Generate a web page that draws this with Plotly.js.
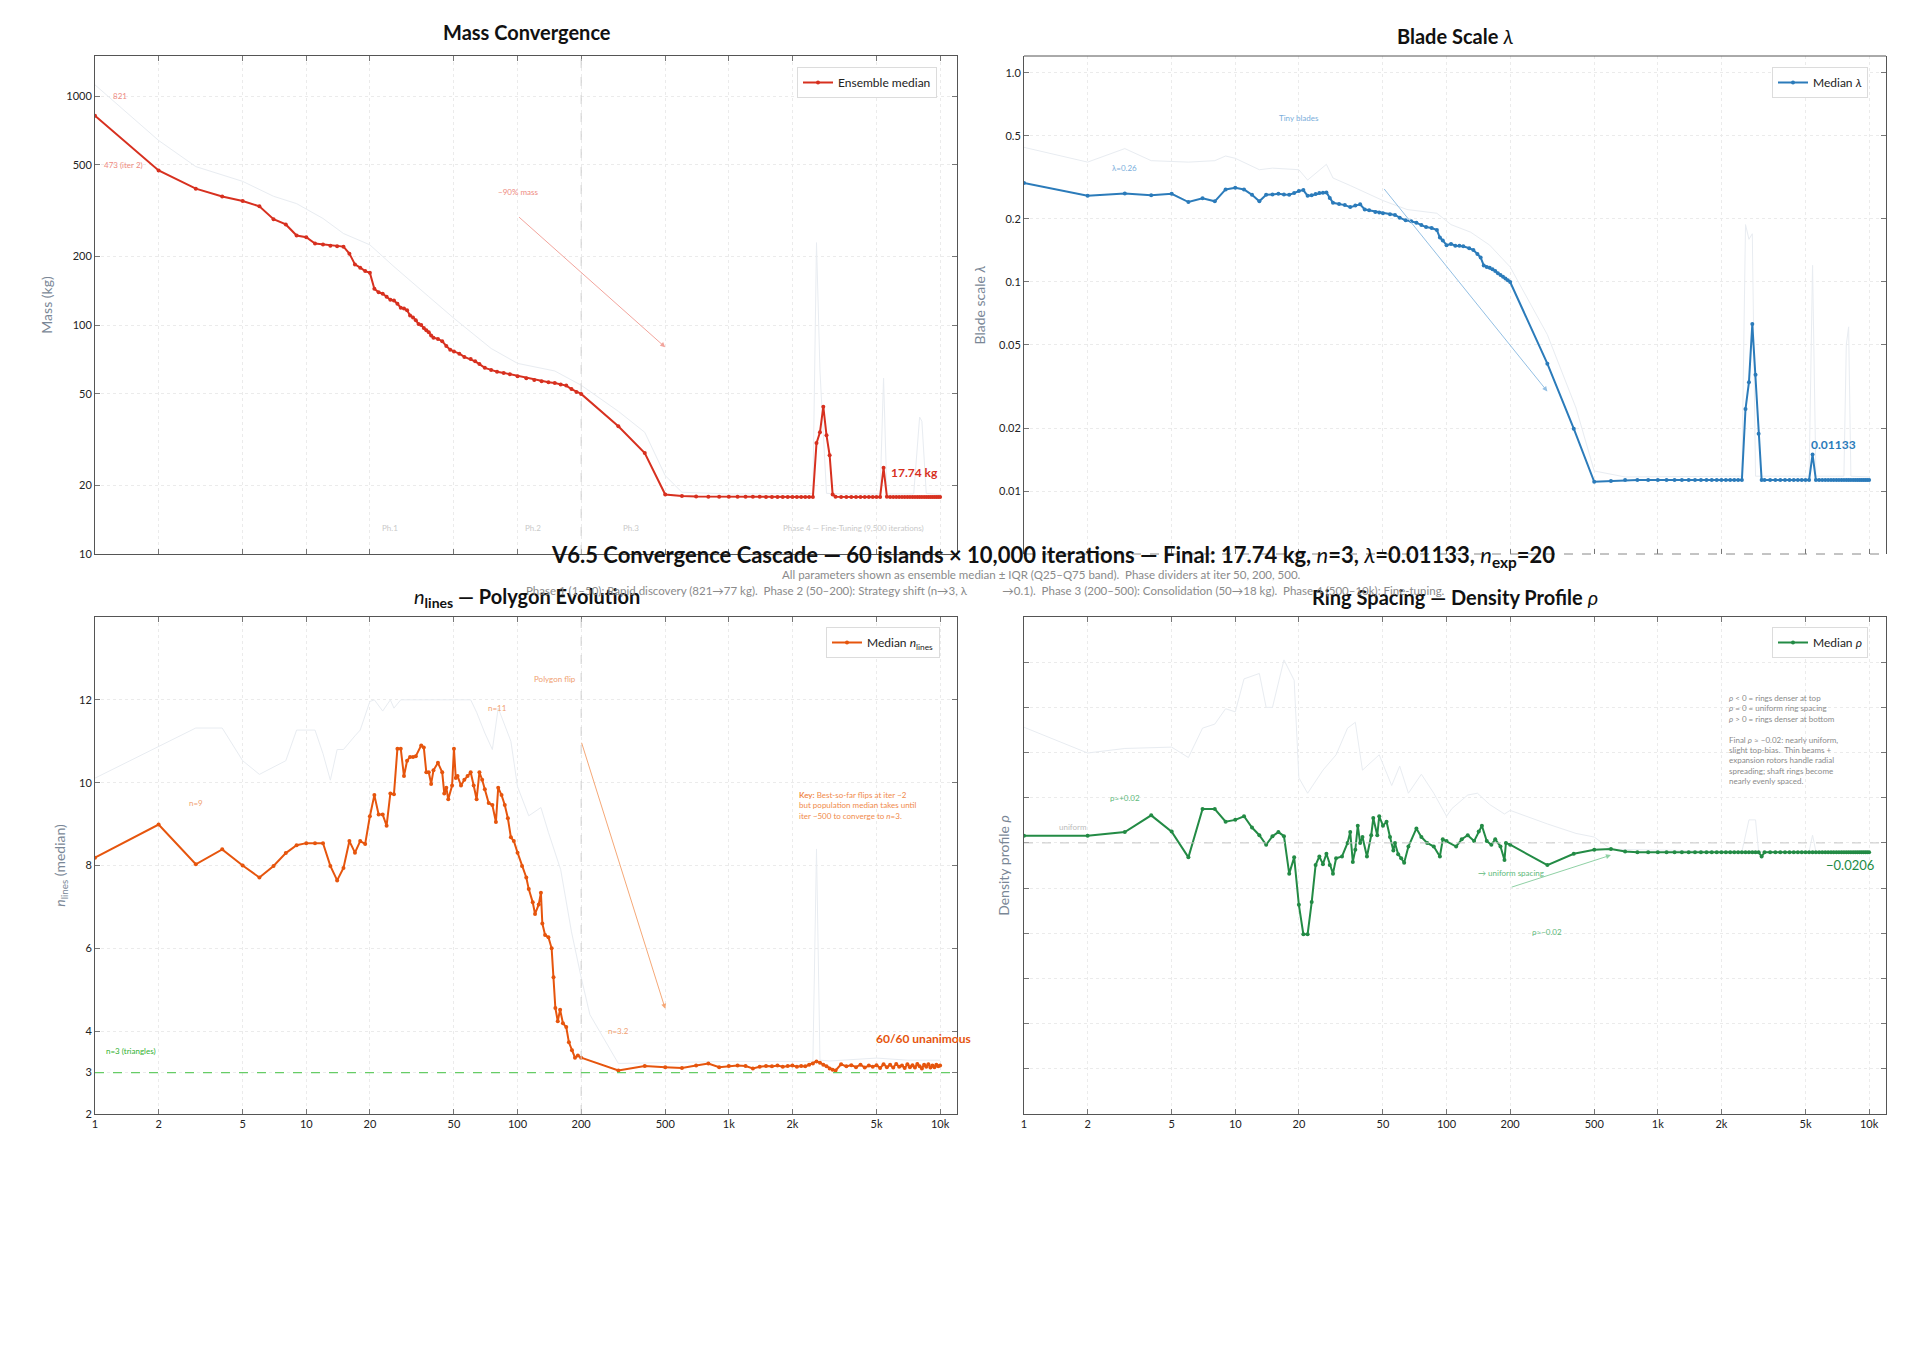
<!DOCTYPE html>
<html>
<head>
<meta charset="utf-8">
<script src="https://cdn.plot.ly/plotly-3.0.1.min.js"></script>
<style>
  body { margin: 0; background: #fff; }
  #chart { width: 1920px; height: 1360px; }
</style>
</head>
<body>
<div id="chart"></div>
<script>
// ---- data ----
var xTickVals = [1, 2, 5, 10, 20, 50, 100, 200, 500, 1000, 2000, 5000, 10000];
var xTickText = ['1', '2', '5', '10', '20', '50', '100', '200', '500', '1k', '2k', '5k', '10k'];

// iterations logged after iter 200
var tailIters = [300, 400, 500, 600, 700, 800, 900, 1000, 1100, 1200,
  1300, 1400, 1500, 1600, 1700, 1800, 1900, 2000, 2100, 2200,
  2300, 2400, 2500, 2600, 2700, 2800, 2900, 3000, 3100, 3200,
  3400, 3600, 3800, 4000, 4200, 4400, 4600, 4800, 5000, 5200,
  5400, 5600, 5800, 6000, 6200, 6400, 6600, 6800, 7000, 7200,
  7400, 7600, 7800, 8000, 8200, 8400, 8600, 8800, 9000, 9200,
  9400, 9600, 9800, 10000];

// mass median (kg)
var massIters = [1, 2, 3, 4, 5, 6, 7, 8, 9, 10, 11, 12, 13, 14, 15, 16, 17, 18, 19, 20,
  21, 22, 23, 24, 25, 26, 27, 28, 29, 30, 31, 32, 33, 34, 35, 36, 37, 38, 39, 40,
  42, 44, 46, 48, 50, 53, 56, 60, 63, 66, 70, 75, 80, 86, 92, 100, 110, 120, 130, 140,
  150, 160, 170, 180, 190, 200];
var massEarly = [821, 473, 394, 364, 348, 330, 290, 275, 246, 242, 227, 225, 222, 221, 220, 205, 184, 178, 172, 169,
  144, 139, 137, 133, 129, 128, 124, 119, 118, 116, 110, 108, 105, 101, 100, 97, 95, 93, 90, 88,
  87, 85, 81, 78, 76.7, 75, 72.6, 71, 69.4, 67.5, 65, 63.7, 62.5, 61.8, 61, 59.7, 58.5, 57.5, 56.8, 56.2,
  55.8, 55, 54.4, 52.5, 51, 50];
var massTail = [36.1, 27.6, 18.2, 17.9, 17.82, 17.80, 17.79, 17.78, 17.78, 17.77,
  17.77, 17.77, 17.76, 17.76, 17.76, 17.76, 17.76, 17.75, 17.75, 17.75,
  17.75, 17.75, 17.75, 30.5, 34.0, 44.0, 33.0, 27.0, 18.2, 17.8,
  17.76, 17.76, 17.75, 17.75, 17.75, 17.75, 17.75, 17.75, 17.75, 17.75,
  23.8, 17.8, 17.76, 17.75, 17.75, 17.75, 17.75, 17.75, 17.75, 17.75,
  17.75, 17.75, 17.75, 17.75, 17.75, 17.74, 17.74, 17.74, 17.74, 17.74,
  17.74, 17.74, 17.74, 17.74];
var q75MassIters = [1, 2, 3, 4, 5, 7, 9, 12, 15, 20, 26, 38, 50, 75, 100, 150, 200, 300, 400, 500,
  600, 1000, 2000, 2500, 2600, 2700, 2900, 3500, 5200, 5400, 5600, 7500, 8000, 8200, 8600, 9000, 10000];
var q75Mass = [1119, 640, 492, 452, 424, 365, 339, 292, 251, 224, 180, 133, 107, 79, 68, 63, 54.6, 42, 34, 22,
  18.6, 18.3, 18.3, 18.4, 229, 63, 18.4, 18.3, 18.3, 58.6, 18.3, 18.3, 39.6, 38, 18.4, 18.3, 18.2];

// blade scale lambda
var lamIters = [1, 2, 3, 4, 5, 6, 7, 8, 9, 10, 11, 12, 13, 14, 15, 16, 17, 18, 19, 20,
  21, 22, 23, 24, 25, 26, 27, 28, 29, 31, 33, 35, 37, 39, 41, 43, 46, 48, 50, 54,
  57, 60, 64, 68, 72, 76, 80, 85, 90, 93, 96, 100, 105, 110, 115, 120, 128, 134, 140, 145,
  150, 155, 160, 165, 170, 175, 180, 185, 190, 195, 200];
var lamEarly = [0.297, 0.258, 0.265, 0.260, 0.264, 0.241, 0.251, 0.243, 0.277, 0.282, 0.277, 0.261, 0.243, 0.261, 0.262, 0.264, 0.262, 0.261, 0.266, 0.272,
  0.275, 0.258, 0.260, 0.263, 0.266, 0.267, 0.268, 0.252, 0.239, 0.236, 0.233, 0.228, 0.232, 0.235, 0.222, 0.220, 0.216, 0.215, 0.213, 0.211,
  0.209, 0.203, 0.197, 0.195, 0.192, 0.187, 0.183, 0.181, 0.177, 0.163, 0.158, 0.150, 0.152, 0.149, 0.149, 0.148, 0.145, 0.142, 0.136, 0.131,
  0.120, 0.118, 0.117, 0.115, 0.113, 0.110, 0.108, 0.106, 0.104, 0.102, 0.100];
var lamTail = [0.0407, 0.0199, 0.0111, 0.0112, 0.0113, 0.0113, 0.0113, 0.0113, 0.0113, 0.0113,
  0.0113, 0.0113, 0.0113, 0.0113, 0.0113, 0.0113, 0.0113, 0.0113, 0.0113, 0.0113,
  0.0113, 0.0113, 0.0113, 0.0247, 0.0332, 0.063, 0.036, 0.0188, 0.0113, 0.0113,
  0.0113, 0.0113, 0.0113, 0.0113, 0.0113, 0.0113, 0.0113, 0.0113, 0.0113, 0.0113,
  0.015, 0.0113, 0.0113, 0.0113, 0.0113, 0.0113, 0.0113, 0.0113, 0.0113, 0.0113,
  0.0113, 0.0113, 0.0113, 0.0113, 0.0113, 0.0113, 0.0113, 0.0113, 0.0113, 0.0113,
  0.0113, 0.0113, 0.0113, 0.01133];
var q75LamIters = [1, 2, 3, 4, 6, 8, 9, 10, 13, 15, 20, 22, 27, 29, 35, 50, 65, 90, 105, 130,
  160, 200, 300, 410, 500, 700, 2500, 2600, 2700, 2800, 2900, 5200, 5400, 5600, 7600, 7800, 8000, 8200, 10000];
var q75Lam = [0.44, 0.374, 0.434, 0.38, 0.374, 0.38, 0.40, 0.39, 0.344, 0.35, 0.344, 0.307, 0.365, 0.314, 0.289, 0.245, 0.222, 0.213, 0.188, 0.173,
  0.150, 0.118, 0.056, 0.025, 0.0125, 0.0117, 0.0118, 0.188, 0.16, 0.17, 0.0118, 0.0118, 0.12, 0.0118, 0.0118, 0.05, 0.061, 0.0118, 0.0117];

// number of polygon lines
var nIters = [1, 2, 3, 4, 5, 6, 7, 8, 9, 10,
  11, 12, 13, 14, 15, 16, 17, 18, 19, 20,
  21, 22, 23, 24, 25, 26, 27, 28, 29, 30,
  31, 32, 33, 35, 36, 37, 38, 39, 40, 42,
  44, 45, 46, 47, 49, 50, 51, 52, 54, 56,
  58, 60, 62, 64, 66, 68, 70, 73, 76, 79,
  81, 84, 87, 90, 93, 96, 100, 105, 110, 113,
  118, 121, 126, 129, 131, 135, 140, 145, 148, 151,
  155, 159, 164, 170, 175, 181, 187, 193, 200];
var nEarly = [8.19, 8.99, 8.03, 8.39, 8.0, 7.71, 7.99, 8.30, 8.49, 8.54,
  8.54, 8.54, 7.99, 7.64, 7.94, 8.59, 8.31, 8.59, 8.52, 9.19,
  9.70, 9.23, 9.23, 8.96, 9.74, 9.72, 10.82, 10.82, 10.16, 10.53,
  10.62, 10.62, 10.64, 10.90, 10.85, 10.25, 10.25, 9.97, 10.30, 10.48,
  10.25, 9.74, 9.88, 9.60, 9.93, 10.82, 10.11, 10.16, 9.93, 10.07,
  10.16, 10.25, 9.93, 9.60, 10.25, 10.07, 9.84, 9.51, 9.46, 9.05,
  9.88, 9.70, 9.46, 9.14, 8.68, 8.59, 8.31, 7.99, 7.71, 7.43,
  7.11, 6.83, 7.06, 7.34, 6.60, 6.32, 6.27, 6.0, 5.30, 4.56,
  4.24, 4.52, 4.19, 4.10, 3.73, 3.54, 3.36, 3.41, 3.36];
var nTail = [3.05, 3.16, 3.13, 3.11, 3.17, 3.22, 3.13, 3.16, 3.17, 3.16,
  3.10, 3.14, 3.16, 3.15, 3.17, 3.14, 3.16, 3.17, 3.14, 3.16,
  3.15, 3.19, 3.22, 3.27, 3.24, 3.19, 3.15, 3.10, 3.07, 3.05,
  3.20, 3.15, 3.18, 3.13, 3.19, 3.12, 3.17, 3.14, 3.18, 3.11,
  3.20, 3.13, 3.19, 3.12, 3.21, 3.14, 3.17, 3.11, 3.20, 3.13,
  3.18, 3.12, 3.21, 3.15, 3.10, 3.19, 3.14, 3.20, 3.12, 3.17,
  3.13, 3.19, 3.15, 3.17];
var q75NIters = [1, 3, 4, 5, 6, 8, 9, 11, 12, 13, 14, 15, 17, 18, 20, 21, 23, 25, 26, 28,
  60, 64, 70, 76, 81, 93, 100, 113, 129, 140, 160, 180, 200, 220, 300, 1000, 2500, 2600, 2700, 3000,
  5000, 7000, 10000];
var q75N = [10.11, 11.32, 11.32, 10.53, 10.2, 10.53, 11.27, 11.27, 10.7, 10.06, 10.8, 10.8, 11.13, 11.27, 11.96, 12.0, 11.73, 12.0, 11.8, 12.0,
  12.0, 11.7, 11.2, 10.8, 11.8, 11.0, 9.9, 9.2, 9.4, 8.8, 7.9, 6.4, 5.3, 4.4, 3.22, 3.27, 3.27, 8.4, 3.3, 3.28,
  3.35, 3.3, 3.3];

// density profile rho
var rhoIters = [1, 2, 3, 4, 5, 6, 7, 8, 9, 10,
  11, 12, 13, 14, 15, 16, 17, 18, 19, 20,
  21, 22, 23, 24, 25, 26, 27, 28, 29, 30,
  32, 34, 35, 36, 37, 38, 39, 40, 42, 44,
  45, 47, 48, 50, 52, 54, 56, 57, 59, 61,
  63, 66, 72, 76, 81, 87, 93, 96, 100, 111,
  118, 126, 135, 142, 147, 155, 163, 170, 180, 188,
  191, 200];
var rhoEarly = [0.016, 0.016, 0.024, 0.061, 0.025, -0.032, 0.075, 0.075, 0.047, 0.051,
  0.059, 0.034, 0.017, -0.004, 0.015, 0.024, 0.015, -0.068, -0.032, -0.137,
  -0.202, -0.202, -0.131, -0.049, -0.030, -0.047, -0.024, -0.049, -0.068, -0.034,
  -0.030, 0.0, 0.024, -0.042, -0.015, 0.038, 0.0, 0.013, -0.030, 0.017,
  0.055, 0.017, 0.059, 0.038, 0.047, 0.013, -0.017, 0.0, -0.025, -0.034,
  -0.044, -0.008, 0.032, 0.013, 0.0, -0.008, -0.030, 0.008, 0.004, -0.008,
  0.008, 0.017, 0.004, 0.025, 0.038, 0.004, -0.004, 0.008, -0.008, -0.038,
  0.0, -0.004];
var rhoTail = [-0.049, -0.024, -0.015, -0.0136, -0.019, -0.0206, -0.0206, -0.0206, -0.0206, -0.0206,
  -0.0206, -0.0206, -0.0206, -0.0206, -0.0206, -0.0206, -0.0206, -0.0206, -0.0206, -0.0206,
  -0.0206, -0.0206, -0.0206, -0.0206, -0.0206, -0.0206, -0.0206, -0.0206, -0.030, -0.0206,
  -0.0206, -0.0206, -0.0206, -0.0206, -0.0206, -0.0206, -0.0206, -0.0206, -0.0206, -0.0206,
  -0.0206, -0.0206, -0.0206, -0.0206, -0.0206, -0.0206, -0.0206, -0.0206, -0.0206, -0.0206,
  -0.0206, -0.0206, -0.0206, -0.0206, -0.0206, -0.0206, -0.0206, -0.0206, -0.0206, -0.0206,
  -0.0206, -0.0206, -0.0206, -0.0206];
var q75RhoIters = [1, 2, 3, 5, 6, 7, 8, 9, 10, 11, 13, 14, 15, 17, 19, 20, 22, 26, 30, 34,
  37, 40, 48, 55, 60, 66, 76, 87, 100, 106, 126, 140, 160, 188, 200, 300, 410, 500, 600, 2500,
  2700, 2900, 3000, 5200, 5400, 5600, 10000];
var q75Rho = [0.256, 0.199, 0.209, 0.212, 0.189, 0.254, 0.263, 0.297, 0.29, 0.363, 0.375, 0.30, 0.30, 0.405, 0.36, 0.144, 0.11, 0.161, 0.195, 0.254,
  0.267, 0.161, 0.195, 0.127, 0.17, 0.11, 0.152, 0.11, 0.059, 0.076, 0.106, 0.11, 0.085, 0.064, 0.072, 0.042, 0.021, 0.013, -0.014, -0.019,
  0.051, 0.051, -0.019, -0.019, 0.017, -0.019, -0.019];

// ---- styling ----
var FONT = 'Lato, "Open Sans", sans-serif';
var RED = '#d7301f', BLUE = '#2b7bba', ORANGE = '#e6550d', GREEN = '#238b45';
var FAINT = '#e8ecf1';
var L = Math.log10;

function medianTrace(x, y, color, name, xa, ya, leg) {
  return {
    x: x, y: y, type: 'scatter', mode: 'lines+markers', name: name,
    line: {color: color, width: 2}, marker: {color: color, size: 4},
    xaxis: xa, yaxis: ya, legend: leg
  };
}
function faintTrace(x, y, xa, ya) {
  return {
    x: x, y: y, type: 'scatter', mode: 'lines', showlegend: false, hoverinfo: 'skip',
    line: {color: FAINT, width: 1}, xaxis: xa, yaxis: ya
  };
}

var data = [
  faintTrace(q75MassIters, q75Mass, 'x', 'y'),
  medianTrace(massIters.concat(tailIters), massEarly.concat(massTail), RED, 'Ensemble median', 'x', 'y', 'legend'),
  faintTrace(q75LamIters, q75Lam, 'x2', 'y2'),
  medianTrace(lamIters.concat(tailIters), lamEarly.concat(lamTail), BLUE, 'Median <i>λ</i>', 'x2', 'y2', 'legend2'),
  faintTrace(q75NIters, q75N, 'x3', 'y3'),
  medianTrace(nIters.concat(tailIters), nEarly.concat(nTail), ORANGE, 'Median <i>n</i><sub>lines</sub>', 'x3', 'y3', 'legend3'),
  faintTrace(q75RhoIters, q75Rho, 'x4', 'y4'),
  medianTrace(rhoIters.concat(tailIters), rhoEarly.concat(rhoTail), GREEN, 'Median <i>ρ</i>', 'x4', 'y4', 'legend4')
];

var colL = [95 / 1920, 957 / 1920], colR = [1024 / 1920, 1886 / 1920];
var rowT = [1 - 554 / 1360, 1 - 56 / 1360], rowB = [1 - 1114 / 1360, 1 - 617 / 1360];

function xAxis(domain, anchor, labels, line) {
  return {
    type: 'log', range: [0, 4.08], domain: domain, anchor: anchor,
    tickvals: xTickVals, ticktext: xTickText, showticklabels: labels,
    ticks: 'inside', ticklen: 5, tickcolor: '#777',
    showline: line, linecolor: '#555', linewidth: 1, mirror: line ? 'allticks' : false,
    showgrid: true, gridcolor: '#ebebeb', griddash: 'dot', zeroline: false,
    tickfont: {family: FONT, size: 11, color: '#222'}
  };
}
function yAxis(domain, anchor, title, extra) {
  var a = {
    domain: domain, anchor: anchor,
    ticks: 'inside', ticklen: 5, tickcolor: '#777',
    showline: true, linecolor: '#555', linewidth: 1, mirror: 'allticks',
    showgrid: true, gridcolor: '#ebebeb', griddash: 'dot', zeroline: false,
    tickfont: {family: FONT, size: 11, color: '#222'},
    title: {text: title, font: {family: FONT, size: 14, color: '#7a8796'}, standoff: 10}
  };
  for (var k in extra) a[k] = extra[k];
  return a;
}

function legendAt(x, y) {
  return {
    x: x, y: y, xanchor: 'right', yanchor: 'top',
    bgcolor: '#fff', bordercolor: '#dcdcdc', borderwidth: 1,
    font: {family: FONT, size: 12, color: '#222'}
  };
}

function note(text, xa, ya, x, y, size, color, extra) {
  var a = {
    text: text, xref: xa, yref: ya, x: x, y: y, showarrow: false,
    xanchor: 'center', yanchor: 'middle',
    font: {family: FONT, size: size, color: color}
  };
  for (var k in extra) a[k] = extra[k];
  return a;
}
function arrow(xa, ya, x0, y0, x1, y1, color) {
  return {
    text: '', xref: xa, yref: ya, axref: xa, ayref: ya,
    x: x1, y: y1, ax: x0, ay: y0, showarrow: true,
    arrowhead: 2, arrowsize: 1, arrowwidth: 1, arrowcolor: color
  };
}

var phaseFont = '#c9c9c9';
var annotations = [
  // panel titles
  note('<b>Mass Convergence</b>', 'paper', 'paper', 527 / 1920, 1 - 32 / 1360, 20, '#111'),
  note('<b>Blade Scale</b> <i>λ</i>', 'paper', 'paper', 1455 / 1920, 1 - 36 / 1360, 20, '#111'),
  note('<i>n</i><sub><b>lines</b></sub><b> — Polygon Evolution</b>', 'paper', 'paper', 527 / 1920, 1 - 597 / 1360, 20, '#111'),
  note('<b>Ring Spacing — Density Profile</b> <i>ρ</i>', 'paper', 'paper', 1455 / 1920, 1 - 597 / 1360, 20, '#111'),
  // figure title and notes
  note('<b>V6.5 Convergence Cascade — 60 islands × 10,000 iterations — Final: 17.74 kg, </b><i>n</i><b>=3, </b><i>λ</i><b>=0.01133, </b><i>n</i><sub><b>exp</b></sub><b>=20</b>',
    'paper', 'paper', 1053 / 1920, 1 - 556 / 1360, 22, '#111'),
  note('All parameters shown as ensemble median ± IQR (Q25–Q75 band).  Phase dividers at iter 50, 200, 500.',
    'paper', 'paper', 1041 / 1920, 1 - 574 / 1360, 11.5, '#8a8a8a'),
  note('Phase 1 (1–50): Rapid discovery (821→77 kg).  Phase 2 (50–200): Strategy shift (n→3, λ            →0.1).  Phase 3 (200–500): Consolidation (50→18 kg).  Phase 4 (500–10k): Fine-tuning.',
    'paper', 'paper', 985 / 1920, 1 - 590 / 1360, 11.5, '#8a8a8a'),

  // panel 1
  note('821', 'x', 'y', L(1.31), L(1000), 8, '#ee8a80'),
  note('473 (iter 2)', 'x', 'y', L(1.08), L(500), 8, '#ee8a80', {xanchor: 'left'}),
  note('−90% mass', 'x', 'y', L(100), L(382), 8, '#ee8a80'),
  arrow('x', 'y', L(100), L(300), L(500), L(80), '#f2a49c'),
  note('<b>17.74 kg</b>', 'x', 'y', L(10000), L(22.6), 12, RED, {xanchor: 'right'}),
  note('Ph.1', 'x', 'y', L(25), L(13), 8, phaseFont),
  note('Ph.2', 'x', 'y', L(118), L(13), 8, phaseFont),
  note('Ph.3', 'x', 'y', L(344), L(13), 8, phaseFont),
  note('Phase 4 — Fine-Tuning (9,500 iterations)', 'x', 'y', L(3890), L(13), 8, phaseFont),

  // panel 2
  note('λ=0.26', 'x2', 'y2', L(3), L(0.35), 8, '#7aaedb'),
  note('Tiny blades', 'x2', 'y2', L(20), L(0.61), 8, '#7aaedb'),
  arrow('x2', 'y2', L(50), L(0.283), L(300), L(0.030), '#93bfe3'),
  note('<b>0.01133</b>', 'x2', 'y2', L(6820), L(0.0167), 12, BLUE),

  // panel 3
  note('n=9', 'x3', 'y3', L(3), 9.5, 8, '#f0a070'),
  note('n=11', 'x3', 'y3', L(80), 11.8, 8, '#f0a070'),
  note('Polygon flip', 'x3', 'y3', L(150), 12.5, 8, '#f0a070'),
  note('n=3.2', 'x3', 'y3', L(300), 4.0, 8, '#f0a070'),
  note('n=3 (triangles)', 'x3', 'y3', L(1.1), 3.52, 8, '#2fb02f', {xanchor: 'left'}),
  arrow('x3', 'y3', L(200), 11.0, L(500), 4.54, '#f5a877'),
  note('<b>Key:</b> Best-so-far flips at iter ~2<br>but population median takes until<br>iter ~500 to converge to <i>n</i>=3.',
    'x3', 'y3', L(2100), 9.88, 8, '#f08a4b', {xanchor: 'left', yanchor: 'top', align: 'left'}),
  note('<b>60/60 unanimous</b>', 'x3', 'y3', L(4870), 3.82, 12, ORANGE, {xanchor: 'left'}),

  // panel 4
  note('ρ≈+0.02', 'x4', 'y4', L(3), 0.10, 8, '#5cb97a'),
  note('uniform', 'x4', 'y4', L(1.7), 0.036, 8, '#bbbbbb'),
  note('ρ≈−0.02', 'x4', 'y4', L(300), -0.198, 8, '#5cb97a'),
  note('→ uniform spacing', 'x4', 'y4', L(202), -0.066, 8, '#5cb97a'),
  arrow('x4', 'y4', L(200), -0.099, L(600), -0.027, '#8fd1a5'),
  note('−0.0206', 'x4', 'y4', L(8130), -0.049, 13, GREEN),
  note('<i>ρ</i> &lt; 0 = rings denser at top<br><i>ρ</i> = 0 = uniform ring spacing<br><i>ρ</i> &gt; 0 = rings denser at bottom<br><br>' +
    'Final <i>ρ</i> ≈ −0.02: nearly uniform,<br>slight top-bias.  Thin beams +<br>expansion rotors handle radial<br>spreading; shaft rings become<br>nearly evenly spaced.',
    'x4', 'y4', L(2120), 0.336, 8, '#8a8a8a', {xanchor: 'left', yanchor: 'top', align: 'left'})
];

var shapes = [
  // phase divider at iter 200
  {type: 'line', xref: 'x', yref: 'y domain', x0: 200, x1: 200, y0: 0, y1: 1, line: {color: '#cfcfcf', width: 1, dash: 'dash'}},
  {type: 'line', xref: 'x3', yref: 'y3 domain', x0: 200, x1: 200, y0: 0, y1: 1, line: {color: '#cfcfcf', width: 1, dash: 'dash'}},
  // reference lines
  {type: 'line', xref: 'x3 domain', yref: 'y3', x0: 0, x1: 1, y0: 3, y1: 3, line: {color: '#66cc66', width: 1.2, dash: 'dash'}},
  {type: 'line', xref: 'x4 domain', yref: 'y4', x0: 0, x1: 1, y0: 0, y1: 0, line: {color: '#c8c8c8', width: 1, dash: 'dash'}},
  // blade panel frame: solid top, dashed bottom
  {type: 'line', xref: 'x2 domain', yref: 'y2 domain', x0: 0, x1: 1, y0: 1, y1: 1, line: {color: '#555', width: 1}},
  {type: 'line', xref: 'x2 domain', yref: 'y2 domain', x0: 0, x1: 1, y0: 0, y1: 0, line: {color: '#888', width: 1, dash: 'dash'}}
];

var layout = {
  width: 1920, height: 1360,
  margin: {l: 0, r: 0, t: 0, b: 0},
  paper_bgcolor: '#fff', plot_bgcolor: '#fff',
  font: {family: FONT, color: '#222'},
  xaxis: xAxis(colL, 'y', false, true),
  yaxis: yAxis(rowT, 'x', 'Mass (kg)', {type: 'log', range: [1, 3.175], tickvals: [10, 20, 50, 100, 200, 500, 1000], ticktext: ['10', '20', '50', '100', '200', '500', '1000']}),
  xaxis2: xAxis(colR, 'y2', false, false),
  yaxis2: yAxis(rowT, 'x2', 'Blade scale <i>λ</i>', {type: 'log', range: [-2.30, 0.08], tickvals: [0.01, 0.02, 0.05, 0.1, 0.2, 0.5, 1.0], ticktext: ['0.01', '0.02', '0.05', '0.1', '0.2', '0.5', '1.0']}),
  xaxis3: xAxis(colL, 'y3', true, true),
  yaxis3: yAxis(rowB, 'x3', '<i>n</i><sub>lines</sub> (median)', {range: [2, 14], tickvals: [2, 3, 4, 6, 8, 10, 12]}),
  xaxis4: xAxis(colR, 'y4', true, true),
  yaxis4: yAxis(rowB, 'x4', 'Density profile <i>ρ</i>', {range: [-0.6, 0.5], dtick: 0.1, showticklabels: false}),
  legend: legendAt(937 / 1920, 1 - 67 / 1360),
  legend2: legendAt(1868 / 1920, 1 - 67 / 1360),
  legend3: legendAt(940 / 1920, 1 - 627 / 1360),
  legend4: legendAt(1868 / 1920, 1 - 627 / 1360),
  annotations: annotations,
  shapes: shapes
};

Plotly.newPlot('chart', data, layout, {displayModeBar: false, showLink: false});
</script>
</body>
</html>
